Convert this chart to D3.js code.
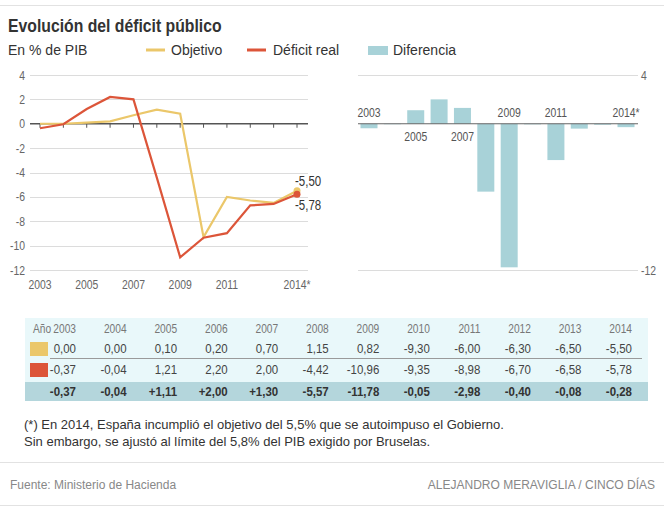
<!DOCTYPE html>
<html>
<head>
<meta charset="utf-8">
<script src="https://cdn.jsdelivr.net/npm/d3@7"></script>
<style>
  body { margin: 0; background: #fff; }
  svg text { font-family: "Liberation Sans", Arial, sans-serif; }
</style>
</head>
<body>
<div id="chart"></div>
<script>
// years and series (% del PIB)
var years = [2003, 2004, 2005, 2006, 2007, 2008, 2009, 2010, 2011, 2012, 2013, 2014];
var objetivo = [0.00, 0.00, 0.10, 0.20, 0.70, 1.15, 0.82, -9.30, -6.00, -6.30, -6.50, -5.50];
var deficitReal = [-0.37, -0.04, 1.21, 2.20, 2.00, -4.42, -10.96, -9.35, -8.98, -6.70, -6.58, -5.78];
var diferencia = [-0.37, -0.04, 1.11, 2.00, 1.30, -5.57, -11.78, -0.05, -2.98, -0.40, -0.08, -0.28];

var yTicks = [4, 2, 0, -2, -4, -6, -8, -10, -12];
var xLabelYears = [2003, 2005, 2007, 2009, 2011, 2014];

var cYellow = "#ebc76a",
    cRed = "#dc5539",
    cBlue = "#a8d2d8";

var width = 664, height = 510;

var svg = d3.select("#chart").append("svg")
    .attr("width", width)
    .attr("height", height);

function yearLabel(y) { return y == 2014 ? "2014*" : String(y); }
function fmt(v) { return d3.format(".2f")(v).replace("\u2212", "-").replace(".", ","); }
function fmtSigned(v) { return (v > 0 ? "+" : "") + fmt(v); }

// text helper: k < 1 squeezes the glyphs to look like a condensed face
function txt(g, x, y, s, size, k, fill, anchor) {
    return g.append("text")
        .attr("transform", "translate(" + x + "," + y + ") scale(" + k + ",1)")
        .attr("text-anchor", anchor || "start")
        .style("font-size", size + "px")
        .attr("fill", fill)
        .text(s);
}

// top rule
svg.append("line").attr("x1", 0).attr("x2", width).attr("y1", 5.5).attr("y2", 5.5)
    .attr("stroke", "#e2e2e2");

// title block
txt(svg, 8, 32, "Evolución del déficit público", 19, 0.83, "#333").style("font-weight", "bold");
txt(svg, 8, 55, "En % de PIB", 14, 1, "#333");

// legend
var legend = svg.append("g");
legend.append("line").attr("x1", 146).attr("x2", 165).attr("y1", 50).attr("y2", 50)
    .attr("stroke", cYellow).attr("stroke-width", 3);
txt(legend, 171, 55, "Objetivo", 14, 1, "#333");
legend.append("line").attr("x1", 247).attr("x2", 266).attr("y1", 50).attr("y2", 50)
    .attr("stroke", cRed).attr("stroke-width", 3);
txt(legend, 273, 55, "Déficit real", 14, 1, "#333");
legend.append("rect").attr("x", 368).attr("y", 46).attr("width", 20).attr("height", 9).attr("fill", cBlue);
txt(legend, 393, 55, "Diferencia", 14, 1, "#333");

// ---------- left: line chart ----------
var x = d3.scalePoint().domain(years).range([40, 297]);
var y = d3.scaleLinear().domain([-12, 4]).range([270, 75]);

var left = svg.append("g");

yTicks.filter(function (d) { return d != 0; }).forEach(function (d) {
    left.append("line")
        .attr("x1", 30).attr("x2", 308)
        .attr("y1", Math.round(y(d)) + 0.5).attr("y2", Math.round(y(d)) + 0.5)
        .attr("stroke", "#dcdcdc");
});
yTicks.forEach(function (d) {
    txt(left, 25, y(d) + 4.5, d, 13, 0.8, "#666", "end");
});

// zero axis with ticks
left.append("line").attr("x1", 30).attr("x2", 308)
    .attr("y1", y(0)).attr("y2", y(0))
    .attr("stroke", "#555").attr("stroke-width", 1.5);
left.selectAll(".tick").data(years)
    .enter().append("line")
    .attr("x1", function (d) { return x(d); }).attr("x2", function (d) { return x(d); })
    .attr("y1", y(0)).attr("y2", y(0) + 4)
    .attr("stroke", "#555");

xLabelYears.forEach(function (d) {
    txt(left, x(d), 289, yearLabel(d), 13, 0.8, "#666", "middle");
});

var line = d3.line()
    .x(function (d, i) { return x(years[i]); })
    .y(function (d) { return y(d); });

left.append("path").datum(objetivo)
    .attr("d", line).attr("fill", "none")
    .attr("stroke", cYellow).attr("stroke-width", 2.2);
left.append("path").datum(deficitReal)
    .attr("d", line).attr("fill", "none")
    .attr("stroke", cRed).attr("stroke-width", 2.2);

var last = years.length - 1;
left.append("circle").attr("cx", x(years[last])).attr("cy", y(objetivo[last])).attr("r", 3.5).attr("fill", cYellow);
left.append("circle").attr("cx", x(years[last])).attr("cy", y(deficitReal[last])).attr("r", 3.5).attr("fill", cRed);
txt(left, 295, 186, fmt(objetivo[last]), 14, 0.82, "#333");
txt(left, 295, 210, fmt(deficitReal[last]), 14, 0.82, "#333");

// ---------- right: bar chart ----------
var xb = d3.scalePoint().domain(years).range([369, 626]);
var barW = 17;
var right = svg.append("g");

[4, -12].forEach(function (t) {
    right.append("line").attr("x1", 358).attr("x2", 638)
        .attr("y1", Math.round(y(t)) + 0.5).attr("y2", Math.round(y(t)) + 0.5)
        .attr("stroke", "#dcdcdc");
    txt(right, 641, y(t) + 4.5, t, 13, 0.8, "#666");
});

right.selectAll(".bar").data(diferencia)
    .enter().append("rect")
    .attr("x", function (d, i) { return xb(years[i]) - barW / 2; })
    .attr("y", function (d) { return y(Math.max(0, d)); })
    .attr("width", barW)
    .attr("height", function (d) { return Math.abs(y(d) - y(0)); })
    .attr("fill", cBlue);

right.append("line").attr("x1", 358).attr("x2", 638)
    .attr("y1", y(0)).attr("y2", y(0))
    .attr("stroke", "#666").attr("stroke-width", 1.2);

xLabelYears.forEach(function (d) {
    var below = diferencia[years.indexOf(d)] > 0;
    txt(right, xb(d), below ? 141 : 117, yearLabel(d), 13, 0.8, "#555", "middle");
});

// ---------- table ----------
var table = svg.append("g");
var colX = d3.scalePoint().domain(years).range([76, 632]);

table.append("rect").attr("x", 25).attr("y", 318).attr("width", 623).attr("height", 83).attr("fill", "#e9f8fa");
table.append("rect").attr("x", 25).attr("y", 382).attr("width", 623).attr("height", 19).attr("fill", "#b4d6dc");
table.append("line").attr("x1", 50).attr("x2", 642).attr("y1", 358.5).attr("y2", 358.5).attr("stroke", "#9a9a9a");
table.append("rect").attr("x", 30).attr("y", 342).attr("width", 18).attr("height", 14).attr("fill", cYellow);
table.append("rect").attr("x", 30).attr("y", 363).attr("width", 18).attr("height", 14).attr("fill", cRed);

txt(table, 33, 333, "Año", 12, 0.85, "#777");
years.forEach(function (d, i) {
    txt(table, colX(d), 333, d, 12, 0.85, "#777", "end");
    txt(table, colX(d), 353, fmt(objetivo[i]), 13.5, 0.85, "#444", "end");
    txt(table, colX(d), 374, fmt(deficitReal[i]), 13.5, 0.85, "#444", "end");
    txt(table, colX(d), 396, fmtSigned(diferencia[i]), 13.5, 0.85, "#333", "end").style("font-weight", "bold");
});

// ---------- notes ----------
txt(svg, 24, 429, "(*) En 2014, España incumplió el objetivo del 5,5% que se autoimpuso el Gobierno.", 13, 1, "#333");
txt(svg, 24, 446, "Sin embargo, se ajustó al límite del 5,8% del PIB exigido por Bruselas.", 13, 1, "#333");

svg.append("line").attr("x1", 0).attr("x2", width).attr("y1", 462.5).attr("y2", 462.5).attr("stroke", "#e2e2e2");
txt(svg, 10, 489, "Fuente: Ministerio de Hacienda", 12, 1, "#888");
txt(svg, 655, 489, "ALEJANDRO MERAVIGLIA / CINCO DÍAS", 12, 1, "#888", "end");
svg.append("line").attr("x1", 0).attr("x2", width).attr("y1", 505.5).attr("y2", 505.5).attr("stroke", "#e2e2e2");
</script>
</body>
</html>
